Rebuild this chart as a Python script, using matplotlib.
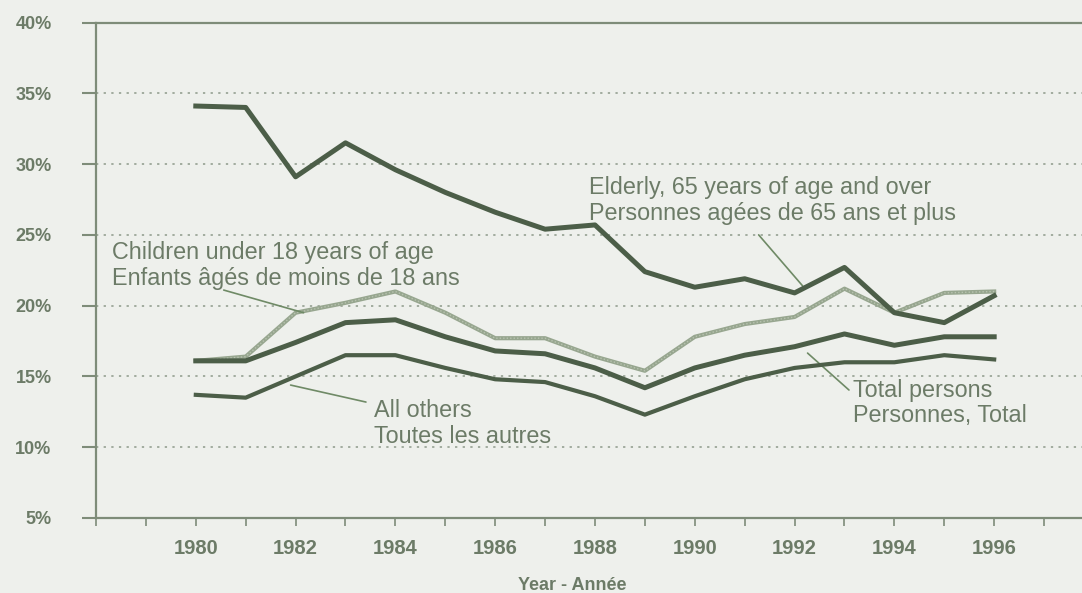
import matplotlib
matplotlib.use('Agg')
import matplotlib.pyplot as plt
import numpy as np

plt.rcParams['font.family'] = ['Liberation Sans', 'DejaVu Sans']

# data (percent)
years = list(range(1980, 1997))
elderly = [34.1, 34.0, 29.1, 31.5, 29.6, 28.0, 26.6, 25.4, 25.7, 22.4, 21.3,
           21.9, 20.9, 22.7, 19.5, 18.8, 20.7]
children = [16.1, 16.4, 19.5, 20.2, 21.0, 19.5, 17.7, 17.7, 16.4, 15.4, 17.8,
            18.7, 19.2, 21.2, 19.5, 20.9, 21.0]
total = [16.1, 16.1, 17.4, 18.8, 19.0, 17.8, 16.8, 16.6, 15.6, 14.2, 15.6,
         16.5, 17.1, 18.0, 17.2, 17.8, 17.8]
others = [13.7, 13.5, 15.0, 16.5, 16.5, 15.6, 14.8, 14.6, 13.6, 12.3, 13.6,
          14.8, 15.6, 16.0, 16.0, 16.5, 16.2]

yticks = [5, 10, 15, 20, 25, 30, 35, 40]
ytick_labels = ['5%', '10%', '15%', '20%', '25%', '30%', '35%', '40%']
xticks = list(range(1978, 1998))
xtick_labels = [str(y) if (y >= 1980 and y <= 1996 and y % 2 == 0) else '' for y in xticks]

# label text, text anchor (left/centre), leader line start and end
labels = [
    ('Children under 18 years of age\nEnfants âgés de moins de 18 ans',
     (1978.33, 22.83), (1980.56, 21.1), (1982.16, 19.5)),
    ('Elderly, 65 years of age and over\nPersonnes agées de 65 ans et plus',
     (1987.88, 27.42), (1991.28, 25.0), (1992.16, 21.4)),
    ('Total persons\nPersonnes, Total',
     (1993.17, 13.12), (1993.09, 14.04), (1992.26, 16.65)),
    ('All others\nToutes les autres',
     (1983.57, 11.67), (1983.41, 13.19), (1981.9, 14.39)),
]

bg = '#eef0ec'
dark = '#4c5e48'
light = '#97a68f'
txt = '#6c7b67'
axcol = '#7e8c79'

fig = plt.figure(figsize=(10.82, 5.93), dpi=100, facecolor=bg)
ax = fig.add_axes([96 / 1082, 75 / 593, 986 / 1082, 495.5 / 593])
ax.set_facecolor(bg)

ax.plot(years, children, color=light, lw=3.0, solid_joinstyle='round', zorder=3)
ax.plot(years, children, color='#b8c3b0', lw=1.0, ls=(0, (1, 1.5)), zorder=3)
ax.plot(years, total, color=dark, lw=3.6, solid_joinstyle='round', zorder=4)
ax.plot(years, others, color=dark, lw=3.0, solid_joinstyle='round', zorder=4)
ax.plot(years, elderly, color=dark, lw=3.6, solid_joinstyle='round', zorder=5)

ax.set_xlim(1978, 1997.76)
ax.set_ylim(5, 40)

for v in yticks[1:-1]:
    ax.axhline(v, color='#8d998a', lw=1.1, ls=(0, (1.5, 3.5)), zorder=1)

ax.set_yticks(yticks)
ax.set_yticklabels(ytick_labels)
ax.set_xticks(xticks)
ax.set_xticklabels(xtick_labels)

ax.tick_params(axis='y', direction='out', length=10, width=1.5, color=axcol,
               pad=22, labelsize=13, labelcolor=txt)
ax.tick_params(axis='x', direction='out', length=6, width=1.2, color=axcol,
               pad=9, labelsize=14.5, labelcolor=txt)
for lab in ax.get_xticklabels() + ax.get_yticklabels():
    lab.set_fontweight('bold')

for s in ['left', 'bottom', 'top']:
    ax.spines[s].set_color(axcol)
    ax.spines[s].set_linewidth(1.6)
ax.spines['right'].set_visible(False)

for text, pos, start, end in labels:
    ax.text(pos[0], pos[1], text, fontsize=16.8, color=txt, ha='left',
            va='center', linespacing=1.13, zorder=6)
    ax.annotate('', xy=end, xytext=start,
                arrowprops=dict(arrowstyle='-', color='#6f8a66', lw=1.2,
                                shrinkA=0, shrinkB=0))

fig.text(572 / 1082, 1 - 585 / 593, 'Year - Année', fontsize=13,
         fontweight='bold', color=txt, ha='center', va='center')

fig.savefig('out.png', dpi=100, facecolor=bg)
